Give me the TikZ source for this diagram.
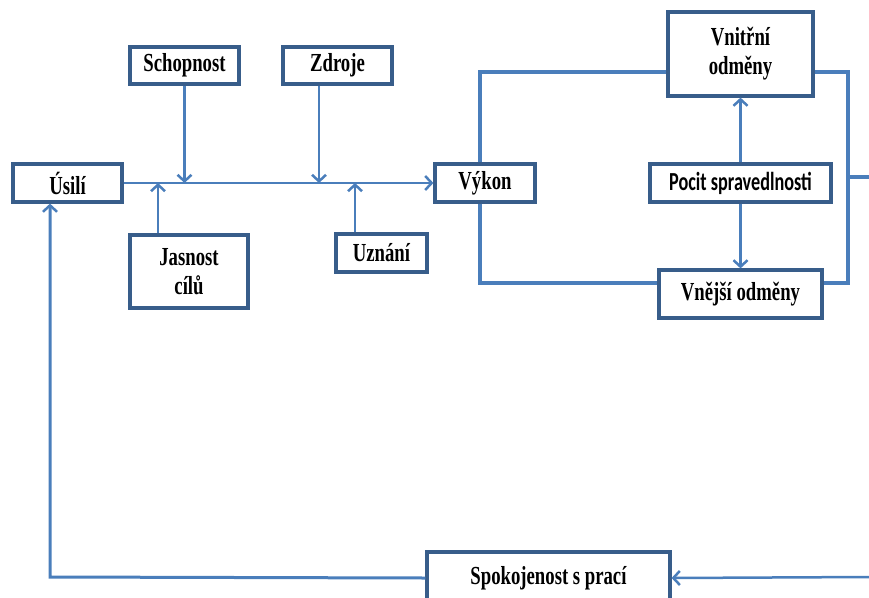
\documentclass[tikz,border=0pt]{standalone}
\usepackage{fontspec}
\usetikzlibrary{arrows.meta}
\newfontfamily\tnrfont[FakeStretch=0.72]{Liberation Serif}
\newfontfamily\calibfont[FakeStretch=0.70]{Carlito}
\definecolor{boxline}{HTML}{385D8A}
\definecolor{conn}{HTML}{4A7EBB}
\tikzset{
  box/.style={draw=boxline, line width=3.2pt, fill=white, inner sep=0pt,
    align=center, font=\tnrfont\bfseries\fontsize{26}{29}\selectfont},
  sansbox/.style={box, font=\calibfont\bfseries\fontsize{26}{29}\selectfont},
  link/.style={draw=conn, line width=3.3pt},
  feed/.style={draw=conn, line width=2.5pt,
    -{Straight Barb[length=6.5pt,width=14pt,line width=2.5pt]}},
}
\begin{document}
\begin{tikzpicture}[x=1pt,y=-1pt]
\clip (0,0) rectangle (869,597);
\useasboundingbox (0,0) rectangle (869,597);

% boxes
\node[box, minimum width=109pt, minimum height=38pt] (usili) at (67.5,183) {Úsilí};
\node[box, minimum width=109pt, minimum height=37pt] (schop) at (184.5,65.5) {Schopnost};
\node[box, minimum width=109pt, minimum height=37pt] (zdroje) at (337.5,65.5) {Zdroje};
\node[box, minimum width=118pt, minimum height=73pt] (jasnost) at (189,271.5) {Jasnost\\cílů};
\node[box, minimum width=91pt, minimum height=38pt] (uznani) at (381.5,253) {Uznání};
\node[box, minimum width=100pt, minimum height=38pt] (vykon) at (485,183) {Výkon};
\node[box, minimum width=145pt, minimum height=84pt] (vnitrni) at (740.5,54) {Vnitřní\\odměny};
\node[sansbox, minimum width=181pt, minimum height=38pt] (pocit) at (740.5,183) {Pocit spravedlnosti};
\node[box, minimum width=163pt, minimum height=48pt] (vnejsi) at (740.5,294) {Vnější odměny};
\node[box, minimum width=243pt, minimum height=52pt] (spok) at (548.5,578) {Spokojenost s prací};

% reference coordinates for the routed lines
\coordinate (tl) at (480,72);
\coordinate (bl) at (480,283);
\coordinate (tr) at (848,72);
\coordinate (br) at (848,283);
\coordinate (mr) at (848,177);
\coordinate (outr) at (869,177);
\coordinate (inr) at (869,577);
\coordinate (fb) at (50,577);

% main flow
\draw[feed] (usili.east) -- (vykon.west);
\draw[feed] (schop.south) -- (schop.south |- usili.east);
\draw[feed] (319,0 |- zdroje.south) -- (319,183);
\draw[feed] (158,0 |- jasnost.north) -- (158,183);
\draw[feed] (355,0 |- uznani.north) -- (355,183);

% performance to rewards loop
\draw[link] (vykon.north -| tl) -- (tl) -- (vnitrni.west |- tl);
\draw[link] (vykon.south -| bl) -- (bl) -- (vnejsi.west |- bl);
\draw[link] (vnitrni.east |- tr) -- (tr) -- (br) -- (vnejsi.east |- br);
\draw[link] (mr) -- (outr);

% equity perception
\draw[feed] (pocit.north) -- (vnitrni.south);
\draw[feed] (pocit.south) -- (vnejsi.north);

% satisfaction feedback
\draw[feed] (inr) -- (spok.east);
\draw[feed, line width=3pt] (spok.west) -- (fb) -- (fb |- usili.south);
\end{tikzpicture}
\end{document}
